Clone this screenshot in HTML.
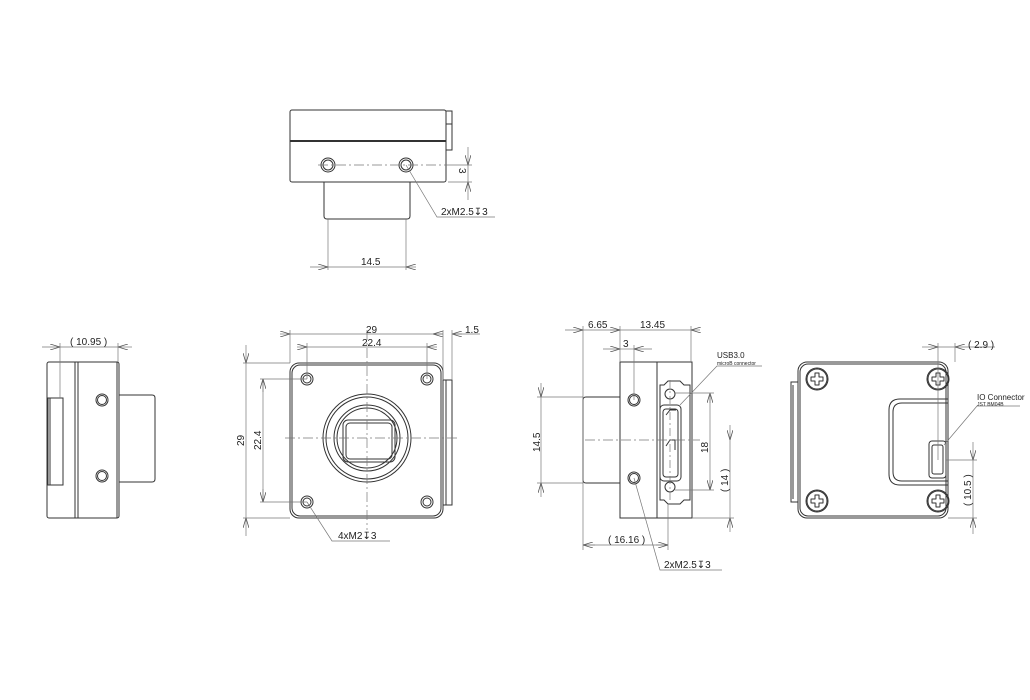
<!DOCTYPE html>
<html><head><style>body{margin:0;background:#fff}svg{display:block}text{font-family:"Liberation Sans",sans-serif;font-size:10px;fill:#222}</style></head><body>
<svg width="1030" height="700" viewBox="0 0 1030 700" xmlns="http://www.w3.org/2000/svg">
<defs><marker id="a" viewBox="0 0 10 6" refX="10" refY="3" markerWidth="10" markerHeight="6" orient="auto-start-reverse" markerUnits="userSpaceOnUse"><path d="M0,0L10,3L0,6" fill="none" stroke="#555" stroke-width="0.8"/></marker>
<g id="s"><circle cx="0" cy="0" r="11"/><circle cx="0" cy="0" r="10"/><path d="M-2,-6 H2 V-2 H6 V2 H2 V6 H-2 V2 H-6 V-2 H-2 Z" stroke-linejoin="round"/></g>
</defs>
<g fill="none" stroke="#333" stroke-width="1">
<rect x="290" y="110" width="156" height="72" rx="2"/>
<line x1="290" y1="141" x2="446" y2="141" stroke-width="2"/>
<path d="M446,111 H452 V150 H446"/><line x1="446" y1="124" x2="452" y2="124"/>
<circle cx="328" cy="165" r="7"/><circle cx="328" cy="165" r="5"/>
<circle cx="406" cy="165" r="7"/><circle cx="406" cy="165" r="5"/>
<path d="M324,182 V216 Q324,219 327,219 H407 Q410,219 410,216 V182"/>
</g>
<g fill="none" stroke="#777" stroke-width="0.7">
<line x1="318" y1="165" x2="448" y2="165" stroke-dasharray="10,3,2,3"/>
<line x1="328" y1="219" x2="328" y2="270"/><line x1="406" y1="219" x2="406" y2="270"/>
<line x1="310" y1="267" x2="328" y2="267" marker-end="url(#a)"/><line x1="328" y1="267" x2="406" y2="267"/><line x1="416" y1="267" x2="406" y2="267" marker-end="url(#a)"/>
<line x1="448" y1="182" x2="472" y2="182"/><line x1="448" y1="165" x2="472" y2="165"/>
<line x1="468" y1="147" x2="468" y2="165" marker-end="url(#a)"/><line x1="468" y1="200" x2="468" y2="182" marker-end="url(#a)"/><line x1="468" y1="165" x2="468" y2="182"/>
<polyline points="406,165 437,217 495,217"/>
</g>
<text x="361" y="265">14.5</text>
<text x="0" y="0" transform="translate(459,168) rotate(90)">3</text>
<text x="441" y="215">2xM2.5↧3</text>

<g fill="none" stroke="#333" stroke-width="1">
<rect x="290" y="363" width="153" height="155" rx="9"/><rect x="292" y="365" width="149" height="151" rx="8"/>
<path d="M443,380 H452 V505 H443"/><line x1="446" y1="380" x2="446" y2="505"/>
<circle cx="307" cy="379" r="6"/><circle cx="307" cy="379" r="4"/>
<circle cx="427" cy="379" r="6"/><circle cx="427" cy="379" r="4"/>
<circle cx="307" cy="502" r="6"/><circle cx="307" cy="502" r="4"/>
<circle cx="427" cy="502" r="6"/><circle cx="427" cy="502" r="4"/>
<circle cx="367" cy="438" r="44"/><circle cx="367" cy="438" r="41"/><circle cx="367" cy="438" r="33"/><circle cx="367" cy="438" r="30"/>
<rect x="343" y="420" width="52" height="42" rx="5"/><rect x="346" y="423" width="46" height="36" rx="4"/>
</g>
<g fill="none" stroke="#777" stroke-width="0.7">
<line x1="285" y1="438" x2="460" y2="438" stroke-dasharray="10,3,2,3"/>
<line x1="367" y1="330" x2="367" y2="530" stroke-dasharray="10,3,2,3"/>
<line x1="290" y1="363" x2="290" y2="330"/><line x1="443" y1="380" x2="443" y2="330"/><line x1="452" y1="380" x2="452" y2="330"/>
<line x1="307" y1="379" x2="307" y2="343"/><line x1="427" y1="379" x2="427" y2="343"/>
<line x1="280" y1="334" x2="290" y2="334" marker-end="url(#a)"/><line x1="290" y1="334" x2="443" y2="334"/><line x1="462" y1="334" x2="452" y2="334" marker-end="url(#a)"/><line x1="443" y1="334" x2="433" y2="334" marker-end="url(#a)"/><line x1="452" y1="334" x2="480" y2="334"/>
<line x1="297" y1="347" x2="307" y2="347" marker-end="url(#a)"/><line x1="307" y1="347" x2="427" y2="347"/><line x1="437" y1="347" x2="427" y2="347" marker-end="url(#a)"/>
<line x1="290" y1="363" x2="243" y2="363"/><line x1="290" y1="518" x2="243" y2="518"/>
<line x1="307" y1="379" x2="260" y2="379"/><line x1="307" y1="502" x2="260" y2="502"/>
<line x1="246" y1="345" x2="246" y2="363" marker-end="url(#a)"/><line x1="246" y1="363" x2="246" y2="518"/><line x1="246" y1="536" x2="246" y2="518" marker-end="url(#a)"/>
<line x1="263" y1="379" x2="263" y2="502" /><line x1="263" y1="392" x2="263" y2="379" marker-end="url(#a)"/><line x1="263" y1="489" x2="263" y2="502" marker-end="url(#a)"/>
<polyline points="307,502 332,541 390,541"/>
</g>
<text x="366" y="333">29</text><text x="362" y="346">22.4</text><text x="465" y="333">1.5</text>
<text transform="translate(244,446) rotate(-90)">29</text>
<text transform="translate(261,450) rotate(-90)">22.4</text>
<text x="338" y="539">4xM2↧3</text>

<g fill="none" stroke="#333" stroke-width="1">
<rect x="47" y="362" width="72" height="156" rx="2"/>
<line x1="75" y1="362" x2="75" y2="518"/><line x1="78" y1="362" x2="78" y2="518"/>
<path d="M117,362 V518"/>
<rect x="48" y="398" width="15" height="87"/><line x1="50" y1="398" x2="50" y2="485"/>
<path d="M119,395 H152 Q155,395 155,398 V479 Q155,482 152,482 H119"/>
<circle cx="102" cy="400" r="6"/><circle cx="102" cy="400" r="4.5"/>
<circle cx="102" cy="476" r="6"/><circle cx="102" cy="476" r="4.5"/>
</g>
<g fill="none" stroke="#777" stroke-width="0.7">
<line x1="60" y1="398" x2="60" y2="343"/><line x1="118" y1="362" x2="118" y2="343"/>
<line x1="42" y1="347" x2="60" y2="347" marker-end="url(#a)"/><line x1="60" y1="347" x2="118" y2="347"/><line x1="132" y1="347" x2="118" y2="347" marker-end="url(#a)"/>
</g>
<text x="70" y="345">( 10.95 )</text>

<g fill="none" stroke="#333" stroke-width="1">
<path d="M620,362 H657 V518 H620 Z"/><path d="M657,362 H692 V518 H657"/>
<path d="M660,385 H664 L668,381 H680 L684,385 H690 V500 H684 L680,504 H668 L664,500 H660 Z"/>
<path d="M583,400 Q583,397 586,397 H620 V483 H586 Q583,483 583,480 Z"/>
<circle cx="634" cy="400" r="6"/><circle cx="634" cy="400" r="4.5"/>
<circle cx="634" cy="478" r="6"/><circle cx="634" cy="478" r="4.5"/>
<circle cx="670" cy="394" r="5"/><circle cx="670" cy="487" r="5"/>
<rect x="660" y="405" width="21" height="76" rx="4"/><rect x="663" y="409" width="15" height="68" rx="3"/>
<path d="M666,415 L670,410 H676 M666,446 L670,440 H675 V450"/>
</g>
<g fill="none" stroke="#777" stroke-width="0.7">
<line x1="585" y1="440" x2="700" y2="440" stroke-dasharray="10,3,2,3"/>
<line x1="670" y1="380" x2="670" y2="500" stroke-dasharray="8,3,2,3"/>
<line x1="583" y1="397" x2="583" y2="550"/><line x1="620" y1="362" x2="620" y2="326"/><line x1="691" y1="362" x2="691" y2="326"/><line x1="583" y1="397" x2="583" y2="326"/>
<line x1="634" y1="400" x2="634" y2="345"/><line x1="668" y1="504" x2="668" y2="550"/>
<line x1="565" y1="330" x2="583" y2="330" marker-end="url(#a)"/><line x1="583" y1="330" x2="691" y2="330"/><line x1="610" y1="330" x2="620" y2="330" marker-end="url(#a)"/><line x1="700" y1="330" x2="691" y2="330" marker-end="url(#a)"/>
<line x1="603" y1="349" x2="620" y2="349" marker-end="url(#a)"/><line x1="620" y1="349" x2="634" y2="349"/><line x1="652" y1="349" x2="634" y2="349" marker-end="url(#a)"/>
<line x1="583" y1="397" x2="537" y2="397"/><line x1="583" y1="483" x2="537" y2="483"/>
<line x1="541" y1="383" x2="541" y2="397" marker-end="url(#a)"/><line x1="541" y1="397" x2="541" y2="483"/><line x1="541" y1="497" x2="541" y2="483" marker-end="url(#a)"/>
<line x1="675" y1="393" x2="714" y2="393"/><line x1="675" y1="490" x2="714" y2="490"/>
<line x1="710" y1="403" x2="710" y2="393" marker-end="url(#a)"/><line x1="710" y1="393" x2="710" y2="490"/><line x1="710" y1="480" x2="710" y2="490" marker-end="url(#a)"/>
<line x1="692" y1="518" x2="734" y2="518"/>
<line x1="730" y1="425" x2="730" y2="440" marker-end="url(#a)"/><line x1="730" y1="440" x2="730" y2="518"/><line x1="730" y1="532" x2="730" y2="518" marker-end="url(#a)"/>
<line x1="583" y1="545" x2="668" y2="545" /><line x1="595" y1="545" x2="583" y2="545" marker-end="url(#a)"/><line x1="656" y1="545" x2="668" y2="545" marker-end="url(#a)"/>
<polyline points="634,478 660,570 722,570"/>
<polyline points="680,405 717,366 762,366"/>
</g>
<text x="588" y="328">6.65</text><text x="640" y="328">13.45</text><text x="623" y="347">3</text>
<text transform="translate(540,452) rotate(-90)">14.5</text>
<text transform="translate(708,453) rotate(-90)">18</text>
<text transform="translate(728,492) rotate(-90)">( 14 )</text>
<text x="608" y="543">( 16.16 )</text>
<text x="664" y="568">2xM2.5↧3</text>
<text x="717" y="358" style="font-size:8px">USB3.0</text>
<text x="717" y="365" style="font-size:5px">microB connector</text>

<g fill="none" stroke="#333" stroke-width="1">
<rect x="798" y="362" width="150" height="156" rx="9"/><rect x="800" y="364" width="146" height="152" rx="8"/>
<path d="M798,382 H791 V502 H798"/><line x1="793" y1="385" x2="793" y2="499"/>
<path d="M948,399 H900 Q889,399 889,410 V474 Q889,485 900,485 H948"/>
<path d="M948,403 H902 Q893,403 893,412 V472 Q893,481 902,481 H948"/>
<rect x="929" y="441" width="17" height="37" rx="3"/><rect x="932" y="445" width="11" height="29" rx="2"/>
<use href="#s" x="817" y="379"/><use href="#s" x="938" y="379"/><use href="#s" x="817" y="501"/><use href="#s" x="938" y="501"/>
</g>
<g fill="none" stroke="#777" stroke-width="0.7">
<line x1="938" y1="460" x2="938" y2="343"/><line x1="955" y1="362" x2="955" y2="343"/>
<line x1="922" y1="347" x2="938" y2="347" marker-end="url(#a)"/><line x1="938" y1="347" x2="955" y2="347"/><line x1="972" y1="347" x2="955" y2="347" marker-end="url(#a)"/><line x1="972" y1="347" x2="995" y2="347"/>
<line x1="946" y1="460" x2="977" y2="460"/><line x1="948" y1="518" x2="977" y2="518"/>
<line x1="973" y1="442" x2="973" y2="460" marker-end="url(#a)"/><line x1="973" y1="460" x2="973" y2="518"/><line x1="973" y1="534" x2="973" y2="518" marker-end="url(#a)"/>
<polyline points="944,445 977,406 1020,406"/>
</g>
<text x="968" y="348">( 2.9 )</text>
<text x="977" y="400" style="font-size:8px">IO Connector</text>
<text x="977" y="406" style="font-size:5px">JST BM04B</text>
<text transform="translate(971,506) rotate(-90)">( 10.5 )</text>
</svg>
</body></html>
